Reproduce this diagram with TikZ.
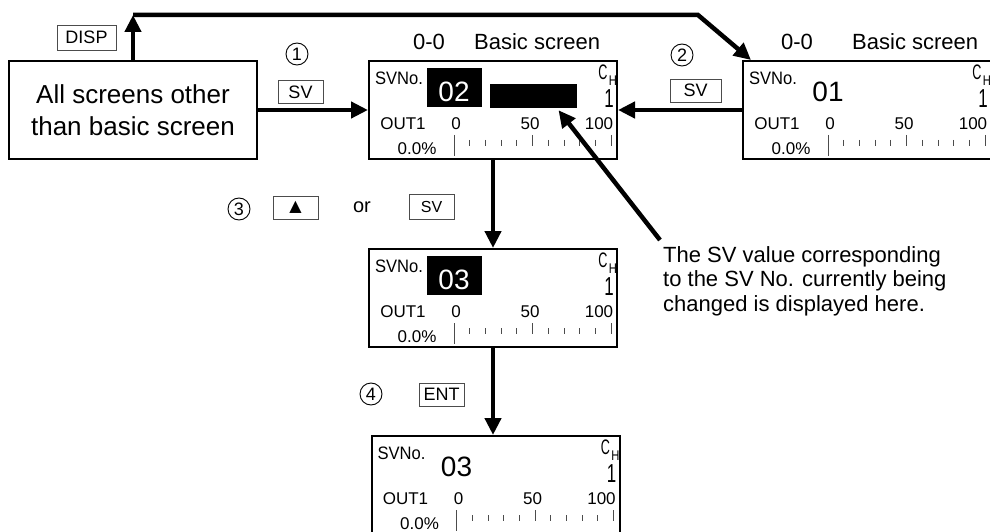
\documentclass[tikz,border=0pt]{standalone}
\usepackage{fontspec}
\setmainfont{Liberation Sans}
\newfontfamily\symfont{DejaVu Sans}
\usetikzlibrary{positioning,arrows.meta,calc}

\tikzset{
  pics/lcd/.style args={#1/#2/#3}{code={
    \node[screenbox] (-frame) at (0,0) {};
    \fill[#2] (-66,-42) rectangle (-11,-3);
    \node[lcdtext, font=\fontsize{28}{28}\selectfont, text=#3] (-num) at (-39,-18) {#1};
    \node[lcdtext, font=\fontsize{18}{18}\selectfont, xscale=0.92, transform shape] at (-94,-32) {SVNo.};
    \node[lcdtext, font=\fontsize{21}{21}\selectfont, xscale=0.6, transform shape] at (110,-38) {C};
    \node[lcdtext, font=\fontsize{14}{14}\selectfont, xscale=0.8, transform shape] at (120,-29) {H};
    \node[lcdtext, font=\fontsize{26}{26}\selectfont, xscale=0.65, transform shape] at (116,-11) {1};
    \node[lcdtext] at (-90,14) {OUT1};
    \node[lcdtext] at (-37,14) {0};
    \node[lcdtext] at (37,14) {50};
    \node[lcdtext] at (106,14) {100};
    \node[lcdtext] at (-76,39) {0.0\%};
    \draw[tick] (-39,25) -- (-39,46);
    \foreach \k in {1,...,9} \draw[tick] (-39+15.7*\k,30) -- ++(0,6);
    \foreach \k in {5,10} \draw[tick] (-39+15.7*\k,25) -- ++(0,11);
  }}
}

\begin{document}
\begin{tikzpicture}[x=1pt, y=-1pt,
    screenbox/.style={draw, line width=2pt, minimum width=248pt, minimum height=98pt, inner sep=0},
    lcdtext/.style={font=\fontsize{17}{17}\selectfont, inner sep=0},
    tick/.style={line width=0.8pt, black!70},
    keybox/.style={draw=black!70, line width=0.8pt, minimum width=45pt, minimum height=23pt, inner sep=0, font=\fontsize{18}{18}\selectfont},
    title/.style={font=\fontsize{22}{22}\selectfont, inner sep=0},
    circnum/.style={circle, draw, line width=0.9pt, minimum size=22pt, inner sep=0, font=\fontsize{18}{18}\selectfont},
    arr/.style={-{Triangle[length=17pt,width=16pt]}, line width=4.5pt}
]
    \useasboundingbox (0,0) rectangle (990,532);

    \node[draw, line width=2pt, minimum width=248pt, minimum height=98pt, align=center, font=\fontsize{26}{32}\selectfont] (all) at (133,110) {All screens other\\than basic screen};

    \pic (s1) at (493,110) {lcd=02/black/white};
    \pic (s2) at (867,110) {lcd=01/white/black};
    \pic (s3) at (493,298) {lcd=03/black/white};
    \pic (s4) at (495.5,485) {lcd=03/white/black};
    \node[fill=black, minimum width=87pt, minimum height=24pt, inner sep=0] (bar) at (533.5,96) {};

    \node[title] (t1a) at (429,42) {0-0};
    \node[title, anchor=west] (t1b) at (474,42) {Basic screen};
    \node[title] (t2a) at (797,42) {0-0};
    \node[title, anchor=west] (t2b) at (852,42) {Basic screen};

    \node[keybox, minimum width=59pt, minimum height=25pt] (disp) at (86.5,37.5) {DISP};
    \node[circnum] (c1) at (297,54) {1};
    \node[keybox] (sv1) at (300.5,92) {SV};
    \node[circnum] (c2) at (682,55) {2};
    \node[keybox, minimum width=51pt] (sv2) at (695.5,90.5) {SV};
    \node[circnum] (c3) at (239,209) {3};
    \node[keybox, font=\symfont\fontsize{16}{16}\selectfont] (up) at (295.5,207.5) {▲};
    \node[title, font=\fontsize{20}{20}\selectfont] (or) at (362,207) {or};
    \node[keybox, minimum height=25pt, font=\fontsize{16}{16}\selectfont] (sv3) at (431.5,206.5) {SV};
    \node[circnum] (c4) at (371,394) {4};
    \node[keybox] (ent) at (441.5,394.5) {ENT};

    \node[align=left, anchor=north west, inner sep=0, font=\fontsize{22}{24.5}\selectfont] (note) at (663,246) {The SV value corresponding\\to the SV No. currently being\\changed is displayed here.};

    \coordinate (turn) at (133,15);
    \coordinate (bend) at (698,15);

    \draw[arr] (all.north) -- (turn);
    \draw[arr] (turn) -- (bend) -- ([xshift=9pt]s2-frame.north west);
    \draw[arr] (all.east) -- (s1-frame.west);
    \draw[arr] (s2-frame.west) -- (s1-frame.east);
    \draw[arr] (s1-frame.south) -- (s3-frame.north);
    \draw[arr] (s3-frame.south) -- ([xshift=-2.5pt]s4-frame.north);
    \draw[arr] ([shift={(-3pt,6pt)}]note.north west) -- ([xshift=25pt,yshift=-2pt]bar.south);
\end{tikzpicture}
\end{document}
